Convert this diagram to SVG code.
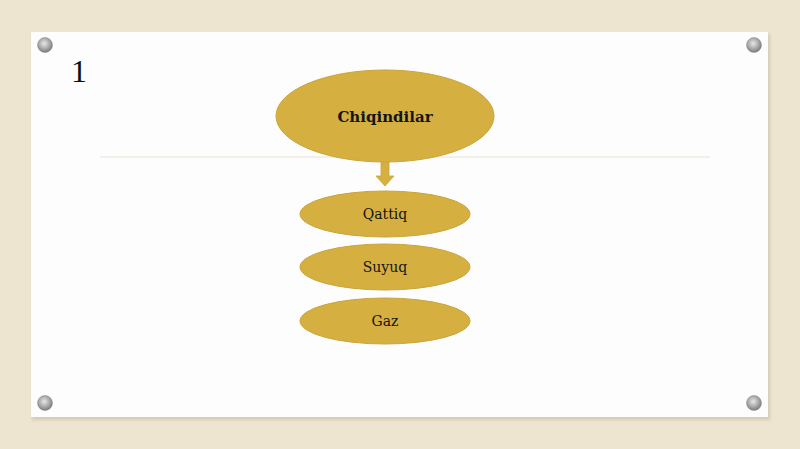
<svg xmlns="http://www.w3.org/2000/svg" width="800" height="449" viewBox="0 0 800 449">
<defs>
<style>
.node{fill:#D5B041;stroke:#C9A43A;stroke-width:1}
.lbl{font-family:"DejaVu Serif","Liberation Serif",serif;fill:#141414;text-anchor:middle}
</style>
<radialGradient id="pin" cx="0.45" cy="0.4" r="0.6">
<stop offset="0" stop-color="#e8e8e8"/>
<stop offset="0.6" stop-color="#a8a8a8"/>
<stop offset="1" stop-color="#7a7a7a"/>
</radialGradient>
<filter id="sh" x="-5%" y="-5%" width="110%" height="110%">
<feGaussianBlur stdDeviation="1.5"/>
</filter>
</defs>
<rect width="800" height="449" fill="#EEE5D0"/>
<rect x="32" y="34" width="738" height="386" fill="#b8b0a0" opacity="0.5" filter="url(#sh)"/>
<rect x="31" y="32" width="737" height="385" fill="#FDFDFD"/>
<line x1="100" y1="157" x2="710" y2="157" stroke="#F3F0EA" stroke-width="2"/>
<g id="pins">
<circle cx="45" cy="45" r="7.5" fill="url(#pin)" stroke="#888" stroke-width="0.5"/>
<circle cx="754" cy="45" r="7.5" fill="url(#pin)" stroke="#888" stroke-width="0.5"/>
<circle cx="45" cy="403" r="7.5" fill="url(#pin)" stroke="#888" stroke-width="0.5"/>
<circle cx="754" cy="403" r="7.5" fill="url(#pin)" stroke="#888" stroke-width="0.5"/>
</g>
<text x="79" y="82" font-family="Liberation Serif,serif" font-size="32" fill="#111" text-anchor="middle">1</text>
<g id="connectors">
<path d="M381 161 H389 V176 H394 L385 186 L376 176 H381 Z" fill="#D5B041" stroke="#C9A43A" stroke-width="0.8"/>
</g>
<g id="chiqindilar">
<ellipse class="node" cx="385" cy="116" rx="109" ry="46"/>
<text class="lbl" x="385" y="122" font-size="15" font-weight="bold">Chiqindilar</text>
</g>
<g id="qattiq">
<ellipse class="node" cx="385" cy="214" rx="85" ry="23"/>
<text class="lbl" x="385" y="219" font-size="14">Qattiq</text>
</g>
<g id="suyuq">
<ellipse class="node" cx="385" cy="267" rx="85" ry="23"/>
<text class="lbl" x="385" y="272" font-size="14">Suyuq</text>
</g>
<g id="gaz">
<ellipse class="node" cx="385" cy="321" rx="85" ry="23"/>
<text class="lbl" x="385" y="326" font-size="14">Gaz</text>
</g>
</svg>
